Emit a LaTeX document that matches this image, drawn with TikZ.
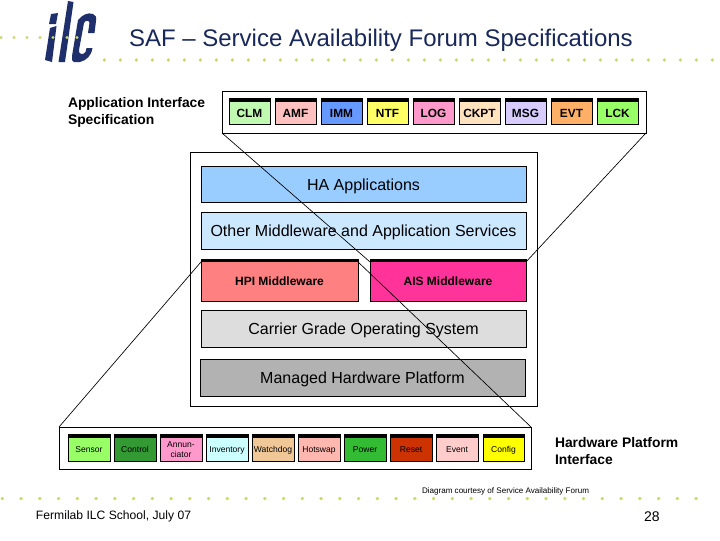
\documentclass[tikz,border=0pt]{standalone}
\usepackage{fontspec}
\setmainfont{Liberation Sans}
\definecolor{navy}{HTML}{1E2F6B}
\definecolor{dotc}{HTML}{CCD868}
\newcommand\boxdrop{0pt}
\tikzset{
  x=0.75pt,y=-0.75pt,
  every node/.style={inner sep=0pt,outer sep=0pt},
  textdrop/.style={execute at begin node={\def\boxdrop{#1}}},
  frame/.style={draw=black,line width=0.75pt,fill=white},
  panel/.style={draw=black,line width=0.75pt,align=center,textdrop=-4.5pt,font=\fontsize{12}{14}\selectfont},
  tabbed/.style={draw=black,line width=0.75pt,align=center,
    path picture={\fill[black] (path picture bounding box.north west) rectangle ([yshift=-#1]path picture bounding box.north east);}},
  topbox/.style={tabbed=3.3pt,textdrop=-4.7pt,font=\bfseries\fontsize{8.9}{10}\selectfont},
  midbox/.style={tabbed=2.5pt,textdrop=-4.3pt,font=\bfseries\fontsize{9}{10}\selectfont},
  lowbox/.style={tabbed=3pt,textdrop=-3.4pt,font=\fontsize{6.4}{7.6}\selectfont},
  zoomline/.style={draw=black,line width=0.5pt},
  heading/.style={anchor=west,align=left,font=\bfseries\fontsize{10.4}{12.75}\selectfont},
  dotmark/.style={fill=dotc,draw=none},
  logo/.style={fill=navy,draw=none}
}
\newcommand\pxbox[7]{\node[#6,minimum width={(#4-#2)*0.75pt},minimum height={(#5-#3)*0.75pt},at={({(#2+#4)/2},{(#3+#5)/2})}] (#1) {\raisebox{\boxdrop}[0pt][0pt]{#7}};}
\begin{document}
\begin{tikzpicture}
\useasboundingbox (0,0) rectangle (720,540);
\fill[white] (0,0) rectangle (720,540);
% logo
\fill[logo] (51,14) -- (58,13) -- (56,24) -- (49,24) -- cycle;
\fill[logo] (50,28) -- (56.5,26) -- (52,62) -- (45,60) -- cycle;
\fill[logo] (68,1) -- (73.5,2) -- (65,62) -- (58.5,62) -- cycle;
\fill[logo] (78,20) .. controls (82,15) and (88,12) .. (93,14) .. controls (96,15) and (96.5,17) .. (96,21) -- (94.5,33) -- (88,33) -- (89.5,23) .. controls (89.5,20) and (85,20) .. (84,23) -- (79,50) .. controls (78,55) and (84,55) .. (85.5,52) -- (86.5,48) -- (92.5,48) .. controls (91,56) and (87,60) .. (80,62) -- (74,62) .. controls (72,62) and (71.5,59) .. (72,56) -- cycle;
% dotted rules
\foreach \xd in {1,14,27,40,53,67,77}{\fill[dotmark] (\xd,37.5) circle (1.7);}
\foreach \i in {0,...,38}{\fill[dotmark] ({104.3+16*\i},60) circle (1.8);}
\foreach \i in {0,...,37}{\fill[dotmark] ({2.3+18.75*\i},498.5) circle (1.8);}
% title
\node[anchor=base west,text=navy!85!black,font=\fontsize{18}{20}\selectfont] (title) at (129,46) {SAF – Service Availability Forum Specifications};
% headings
\node[heading] (apihead) at (68,112) {Application Interface\\Specification};
\node[heading] (hwhead) at (555,451) {Hardware Platform\\Interface};
% frames
\pxbox{appbar}{222}{91}{646}{133}{frame}{}
\pxbox{stack}{190}{152}{537}{406}{frame}{}
\pxbox{hwbar}{59}{427}{531}{469}{frame}{}
% top row
\pxbox{clm}{229}{98}{270}{124}{topbox,fill={rgb,255:red,192;green,250;blue,176}}{CLM}
\pxbox{amf}{275}{98}{316}{124}{topbox,fill={rgb,255:red,255;green,192;blue,192}}{AMF}
\pxbox{imm}{321}{98}{362}{124}{topbox,fill={rgb,255:red,102;green,153;blue,255}}{IMM}
\pxbox{ntf}{367}{98}{408}{124}{topbox,fill={rgb,255:red,255;green,255;blue,102}}{NTF}
\pxbox{logb}{413}{98}{454}{124}{topbox,fill={rgb,255:red,255;green,153;blue,204}}{LOG}
\pxbox{ckpt}{459}{98}{500}{124}{topbox,fill={rgb,255:red,255;green,226;blue,190}}{CKPT}
\pxbox{msg}{505}{98}{546}{124}{topbox,fill={rgb,255:red,216;green,204;blue,255}}{MSG}
\pxbox{evt}{551}{98}{592}{124}{topbox,fill={rgb,255:red,255;green,176;blue,102}}{EVT}
\pxbox{lck}{597}{98}{638}{124}{topbox,fill={rgb,255:red,153;green,255;blue,102}}{LCK}
% stack
\pxbox{ha}{201}{166}{526}{202}{panel,fill={rgb,255:red,153;green,204;blue,255}}{HA Applications}
\pxbox{other}{201}{212}{526}{249}{panel,fill={rgb,255:red,204;green,232;blue,255}}{Other Middleware and Application Services}
\pxbox{hpi}{201}{259}{358}{301}{midbox,fill={rgb,255:red,255;green,128;blue,128}}{HPI Middleware}
\pxbox{ais}{370}{259}{526}{301}{midbox,fill={rgb,255:red,255;green,51;blue,153}}{AIS Middleware}
\pxbox{carrier}{201}{310}{526}{347}{panel,fill={rgb,255:red,221;green,221;blue,221}}{Carrier Grade Operating System}
\pxbox{managed}{200}{359}{525}{396}{panel,fill={rgb,255:red,178;green,178;blue,178}}{Managed Hardware Platform}
% hardware row
\pxbox{sensor}{68}{434}{110}{461}{lowbox,fill={rgb,255:red,153;green,255;blue,102}}{Sensor}
\pxbox{control}{114}{434}{156}{461}{lowbox,fill={rgb,255:red,51;green,153;blue,51}}{Control}
\pxbox{annun}{160}{434}{202}{461}{lowbox,fill={rgb,255:red,255;green,153;blue,204}}{\begin{tabular}{@{}c@{}}Annun-\\ciator\end{tabular}}
\pxbox{inventory}{206}{434}{248}{461}{lowbox,fill={rgb,255:red,204;green,255;blue,255}}{Inventory}
\pxbox{watchdog}{252}{434}{294}{461}{lowbox,fill={rgb,255:red,240;green,200;blue,152}}{Watchdog}
\pxbox{hotswap}{298}{434}{340}{461}{lowbox,fill={rgb,255:red,255;green,184;blue,176}}{Hotswap}
\pxbox{power}{344}{434}{386}{461}{lowbox,fill={rgb,255:red,51;green,187;blue,51}}{Power}
\pxbox{reset}{390}{434}{432}{461}{lowbox,fill={rgb,255:red,204;green,51;blue,0}}{Reset}
\pxbox{event}{436}{434}{478}{461}{lowbox,fill={rgb,255:red,255;green,204;blue,204}}{Event}
\pxbox{config}{483}{434}{524}{461}{lowbox,fill={rgb,255:red,255;green,255;blue,0}}{Config}
% zoom lines
\draw[zoomline] (appbar.south west) -- ([yshift=-2.2pt]ais.north west);
\draw[zoomline] (appbar.south east) -- ([yshift=-2.2pt]ais.north east);
\draw[zoomline] ([yshift=-2.2pt]hpi.north west) -- (hwbar.north west);
\draw[zoomline] ([yshift=-2.2pt]hpi.north east) -- (hwbar.north east);
% footer
\node[anchor=base west,font=\fontsize{6.05}{7}\selectfont] (credit) at (422,493) {Diagram courtesy of Service Availability Forum};
\node[anchor=base west,font=\fontsize{9.1}{11}\selectfont] (school) at (36,519) {Fermilab ILC School, July 07};
\node[anchor=base west,font=\fontsize{10.5}{12}\selectfont] (pageno) at (644,521) {28};
\end{tikzpicture}
\end{document}
